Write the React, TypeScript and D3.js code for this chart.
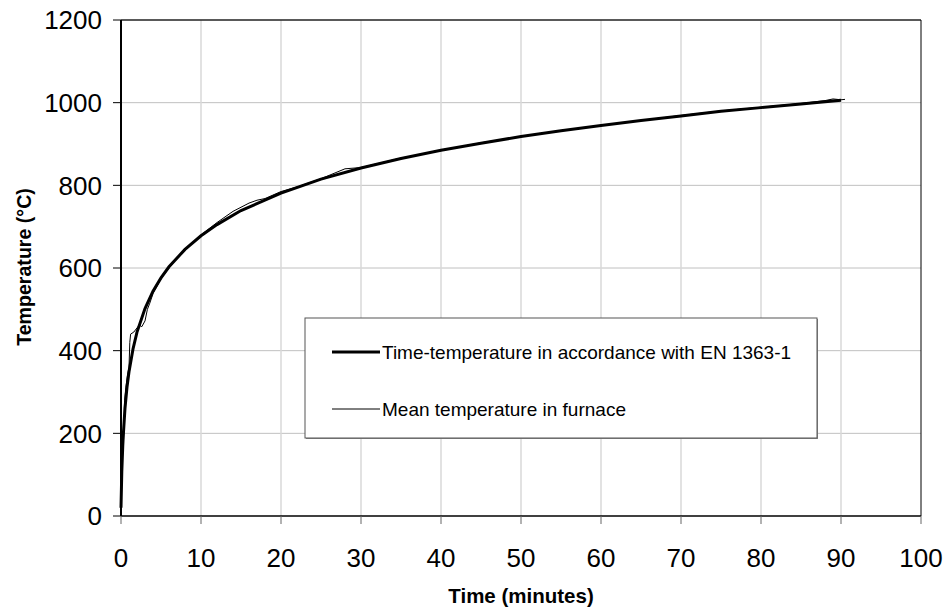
import React from "react";
import * as d3 from "d3";

const xTicks = [0, 10, 20, 30, 40, 50, 60, 70, 80, 90, 100];
const yTicks = [0, 200, 400, 600, 800, 1000, 1200];

const stdTime = [0, 0.1, 0.25, 0.5, 0.75, 1, 1.5, 2, 3, 4, 5, 6, 8, 10, 12, 15, 20, 25, 30, 35, 40, 45, 50, 55, 60, 65, 70, 75, 80, 85, 90];
const stdTemp = [20, 108, 185, 261, 312, 349, 404, 445, 502, 544, 576, 603, 645, 678, 705, 739, 781, 815, 842, 865, 885, 902, 918, 932, 945, 957, 968, 979, 988, 997, 1006];

const furTime = [0, 0.15, 0.3, 0.45, 0.6, 0.8, 1.0, 1.1, 1.2, 1.6, 2.0, 2.3, 2.6, 3.0, 3.3, 3.6, 4, 5, 6, 7, 8, 10, 12, 14, 16, 17, 18, 20, 22, 25, 28, 30, 35, 40, 45, 50, 55, 60, 65, 70, 75, 80, 85, 88, 89, 90, 90.5];
const furTemp = [40, 200, 160, 280, 310, 340, 360, 420, 440, 445, 455, 462, 458, 472, 500, 515, 538, 574, 600, 623, 645, 680, 710, 737, 757, 764, 768, 785, 796, 816, 840, 843, 866, 884, 903, 918, 932, 945, 957, 969, 980, 989, 998, 1005, 1009, 1007, 1008];

const legendLabels = ["Time-temperature in accordance with EN 1363-1", "Mean temperature in furnace"];

export default function App() {
  const W = 946, H = 610;
  const left = 121, right = 921, top = 20, bottom = 516;
  const x = d3.scaleLinear().domain([0, 100]).range([left, right]);
  const y = d3.scaleLinear().domain([0, 1200]).range([bottom, top]);
  const font = "'Liberation Sans', Arial, sans-serif";

  const line = d3.line<[number, number]>().x(d => x(d[0])).y(d => y(d[1]));
  const stdPts = stdTime.map((t, i) => [t, stdTemp[i]] as [number, number]);
  const furPts = furTime.map((t, i) => [t, furTemp[i]] as [number, number]);

  const lx = 305, ly = 318, lw = 512, lh = 120;

  return (
    <svg width={W} height={H} style={{ position: "absolute", left: 0, top: 0, background: "#fff" }}>
      <rect x={0} y={0} width={W} height={H} fill="#fff" />
      {yTicks.filter(v => v > 0 && v < 1200).map(v => (
        <line key={"gy" + v} x1={left} x2={right} y1={y(v)} y2={y(v)} stroke="#c0c0c0" strokeWidth={1} />
      ))}
      {xTicks.filter(v => v > 0 && v < 100).map(v => (
        <line key={"gx" + v} x1={x(v)} x2={x(v)} y1={top} y2={bottom} stroke="#d9d9d9" strokeWidth={1.5} />
      ))}
      <line x1={left} x2={right} y1={top} y2={top} stroke="#222" strokeWidth={1.5} />
      <line x1={right} x2={right} y1={top} y2={bottom} stroke="#000" strokeWidth={1} />
      <line x1={left} x2={right} y1={bottom} y2={bottom} stroke="#000" strokeWidth={1.5} />
      <line x1={left} x2={left} y1={top} y2={bottom} stroke="#000" strokeWidth={2} />
      {yTicks.map(v => (
        <g key={"ty" + v}>
          <line x1={left - 8} x2={left} y1={y(v)} y2={y(v)} stroke="#000" strokeWidth={1} />
          <text x={102} y={y(v)} dy="0.36em" textAnchor="end" fontFamily={font} fontSize={26} fill="#000">{v}</text>
        </g>
      ))}
      {xTicks.map(v => (
        <g key={"tx" + v}>
          <line x1={x(v)} x2={x(v)} y1={bottom} y2={bottom + 8} stroke="#666" strokeWidth={1} />
          <text x={x(v)} y={567} textAnchor="middle" fontFamily={font} fontSize={26} fill="#000">{v}</text>
        </g>
      ))}
      <text x={521} y={603} textAnchor="middle" fontFamily={font} fontSize={20.5} fontWeight="bold">Time (minutes)</text>
      <text transform={`translate(31,267) rotate(-90)`} textAnchor="middle" fontFamily={font} fontSize={19.6} fontWeight="bold">Temperature (°C)</text>
      <path d={line(furPts) || ""} fill="none" stroke="#000" strokeWidth={1} />
      <path d={line(stdPts) || ""} fill="none" stroke="#000" strokeWidth={3} />
      <rect x={lx + 1} y={ly + 1} width={lw} height={lh} fill="#888" />
      <rect x={lx} y={ly} width={lw} height={lh} fill="#fff" stroke="#555" strokeWidth={1} />
      <line x1={332} x2={380} y1={352} y2={352} stroke="#000" strokeWidth={3} />
      <text x={382} y={352} dy="0.36em" fontFamily={font} fontSize={19}>{legendLabels[0]}</text>
      <line x1={332} x2={380} y1={409} y2={409} stroke="#000" strokeWidth={1} />
      <text x={382} y={409} dy="0.36em" fontFamily={font} fontSize={19}>{legendLabels[1]}</text>
    </svg>
  );
}
